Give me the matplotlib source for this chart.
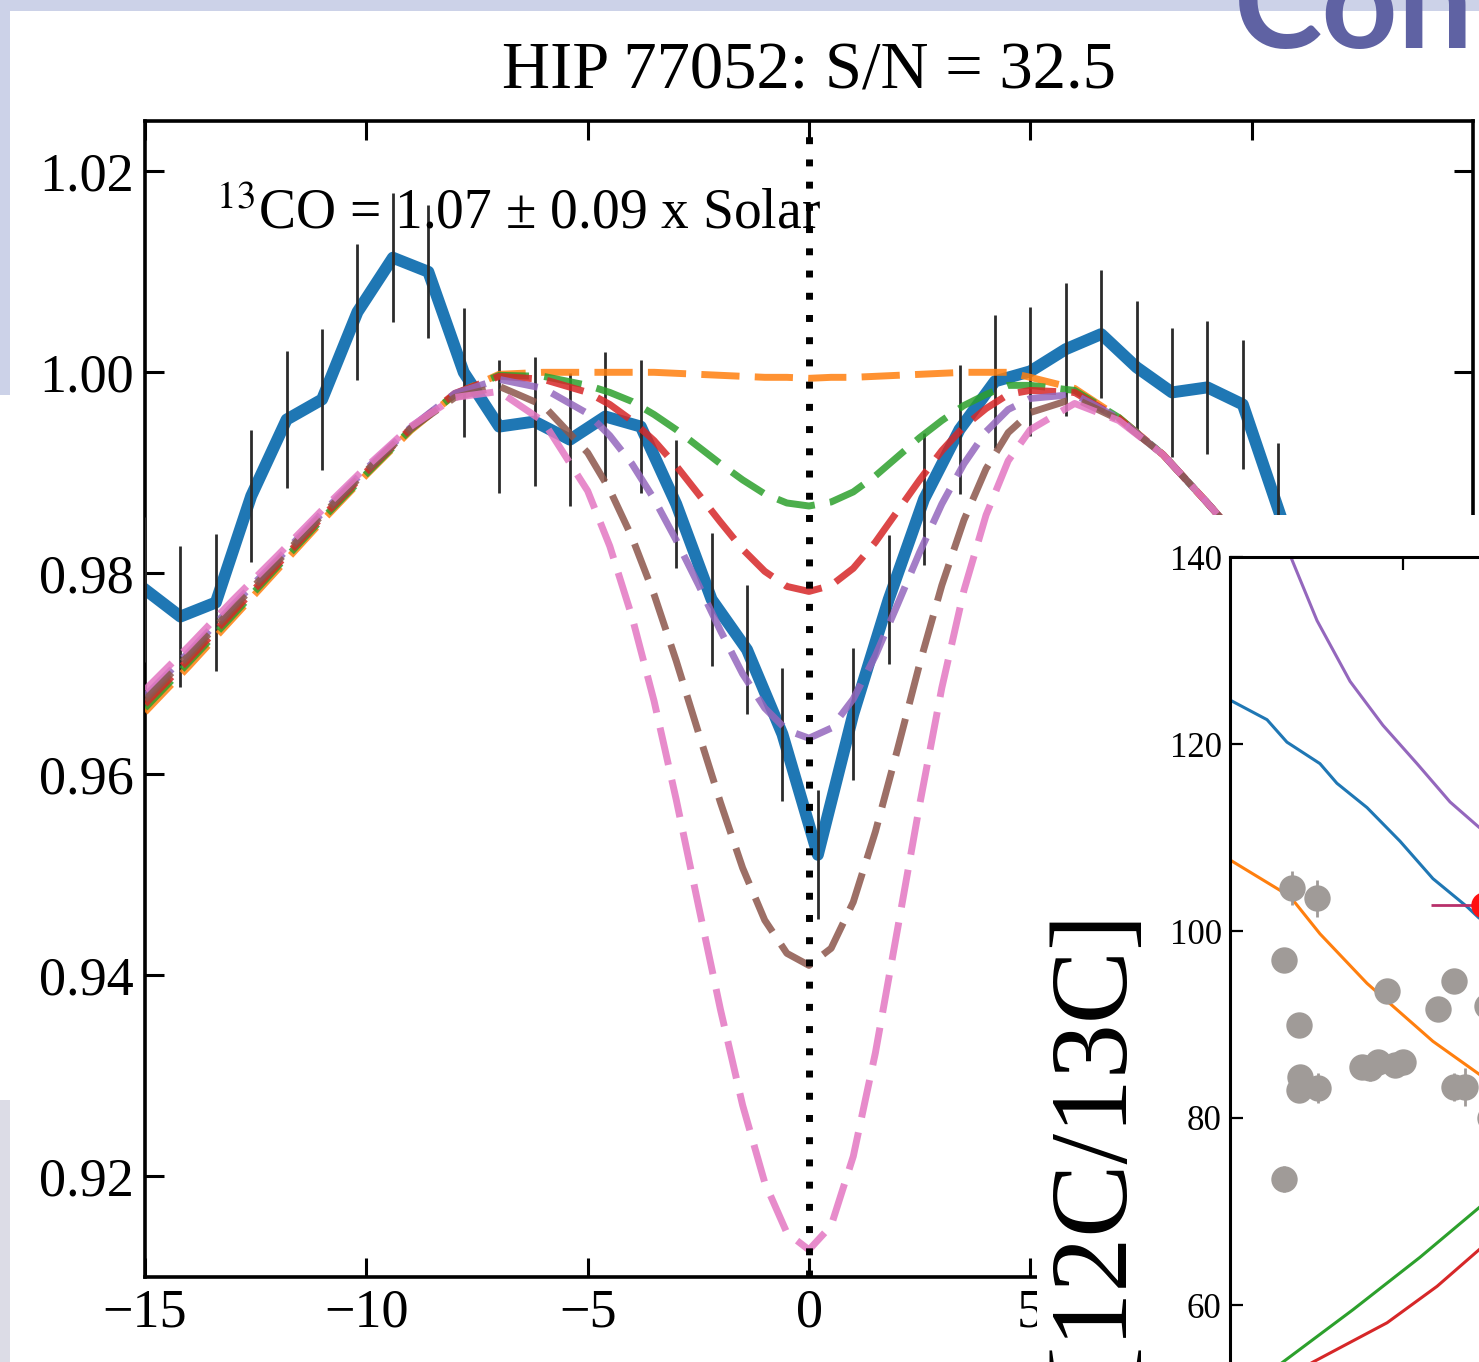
import matplotlib
matplotlib.use("Agg")
import matplotlib.pyplot as plt
from matplotlib.patches import Rectangle

plt.rcParams['font.family'] = ['Liberation Serif', 'DejaVu Serif']
plt.rcParams['mathtext.fontset'] = 'stix'

W, H = 1479, 1362

# observed spectrum: velocity (km/s), normalised flux, error
vel = [-15.0, -14.2, -13.4, -12.6, -11.8, -11.0, -10.2, -9.4, -8.6, -7.8, -7.0, -6.2,
       -5.4, -4.6, -3.8, -3.0, -2.2, -1.4, -0.6, 0.2, 1.0, 1.8, 2.6, 3.4, 4.2, 5.0,
       5.8, 6.6, 7.4, 8.2, 9.0, 9.8, 10.6, 11.4]
flux = [0.9784, 0.9757, 0.9771, 0.9877, 0.9953, 0.9973, 1.0060, 1.0114, 1.0100, 1.0000,
        0.9946, 0.9951, 0.9933, 0.9956, 0.9946, 0.9869, 0.9774, 0.9724, 0.9640, 0.9520,
        0.9660, 0.9774, 0.9874, 0.9943, 0.9991, 1.0001, 1.0023, 1.0038, 1.0005, 0.9980,
        0.9985, 0.9968, 0.9864, 0.9760]
ferr = [0.0072, 0.0070, 0.0068, 0.0066, 0.0068, 0.0070, 0.0068, 0.0064, 0.0066, 0.0064,
        0.0066, 0.0064, 0.0066, 0.0064, 0.0066, 0.0064, 0.0066, 0.0064, 0.0066, 0.0064,
        0.0066, 0.0064, 0.0066, 0.0064, 0.0066, 0.0064, 0.0066, 0.0064, 0.0066, 0.0064,
        0.0066, 0.0064, 0.0066, 0.0064]

# model spectra for different 13CO abundances
mvel = [-15, -14, -13, -12, -11, -10, -9, -8, -7, -6,
        -5, -4.5, -4, -3.5, -3, -2.5, -2, -1.5, -1, -0.5, 0,
        0.5, 1, 1.5, 2, 2.5, 3, 3.5, 4, 4.5, 5,
        6, 7, 8, 9, 10, 11, 12]
m_orange = [0.9662, 0.9708, 0.9756, 0.9804, 0.9852, 0.9898, 0.9942, 0.9978, 0.9998, 1.0000,
            1.0000, 1.0000, 1.0000, 1.0000, 0.9999, 0.9998, 0.9997, 0.9996, 0.9995, 0.9995, 0.9994,
            0.9995, 0.9995, 0.9996, 0.9997, 0.9998, 0.9999, 1.0000, 1.0000, 1.0000, 0.9995,
            0.9984, 0.9955, 0.9918, 0.9870, 0.9820, 0.9765, 0.9710]
m_green = [0.9666, 0.9712, 0.9759, 0.9807, 0.9854, 0.9899, 0.9943, 0.9978, 0.9997, 0.9996,
           0.9987, 0.9980, 0.9971, 0.9958, 0.9943, 0.9926, 0.9909, 0.9893, 0.9879, 0.9870, 0.9867,
           0.9871, 0.9881, 0.9897, 0.9916, 0.9935, 0.9952, 0.9967, 0.9978, 0.9987, 0.9987,
           0.9982, 0.9955, 0.9918, 0.9870, 0.9820, 0.9765, 0.9710]
m_red = [0.9670, 0.9715, 0.9762, 0.9809, 0.9856, 0.9901, 0.9944, 0.9979, 0.9996, 0.9993,
         0.9980, 0.9968, 0.9952, 0.9932, 0.9907, 0.9879, 0.9851, 0.9824, 0.9802, 0.9787, 0.9782,
         0.9788, 0.9805, 0.9831, 0.9862, 0.9893, 0.9922, 0.9946, 0.9964, 0.9978, 0.9982,
         0.9980, 0.9954, 0.9918, 0.9870, 0.9820, 0.9765, 0.9710]
m_purple = [0.9678, 0.9722, 0.9769, 0.9814, 0.9860, 0.9904, 0.9945, 0.9979, 0.9993, 0.9984,
            0.9959, 0.9937, 0.9909, 0.9874, 0.9833, 0.9789, 0.9743, 0.9700, 0.9666, 0.9644, 0.9636,
            0.9646, 0.9675, 0.9718, 0.9769, 0.9821, 0.9869, 0.9909, 0.9941, 0.9963, 0.9974,
            0.9978, 0.9954, 0.9918, 0.9870, 0.9820, 0.9765, 0.9710]
m_brown = [0.9674, 0.9719, 0.9766, 0.9812, 0.9858, 0.9902, 0.9944, 0.9975, 0.9986, 0.9967,
           0.9920, 0.9883, 0.9836, 0.9779, 0.9713, 0.9642, 0.9572, 0.9507, 0.9455, 0.9422, 0.9410,
           0.9427, 0.9473, 0.9543, 0.9625, 0.9710, 0.9788, 0.9853, 0.9904, 0.9940, 0.9960,
           0.9974, 0.9953, 0.9918, 0.9870, 0.9820, 0.9765, 0.9710]
m_pink = [0.9684, 0.9728, 0.9774, 0.9818, 0.9863, 0.9906, 0.9946, 0.9975, 0.9981, 0.9951,
          0.9882, 0.9827, 0.9757, 0.9673, 0.9575, 0.9470, 0.9366, 0.9271, 0.9194, 0.9144, 0.9127,
          0.9151, 0.9220, 0.9323, 0.9446, 0.9570, 0.9686, 0.9783, 0.9858, 0.9912, 0.9943,
          0.9969, 0.9952, 0.9918, 0.9870, 0.9820, 0.9765, 0.9710]

# inset: 12C/13C panel (only partly visible)
purple_x = [0.28, 0.347, 0.503, 0.694, 0.884, 1.081, 1.272, 1.439, 1.6]
purple_y = [143.0, 140.2, 133.2, 126.7, 122.0, 117.9, 113.8, 111.1, 109.0]
blue_x = [0.0, 0.214, 0.329, 0.520, 0.618, 0.792, 0.983, 1.173, 1.370, 1.439, 1.6]
blue_y = [124.7, 122.6, 120.2, 117.9, 115.8, 113.2, 109.6, 105.6, 102.6, 101.4, 100.0]
orange_x = [0.0, 0.347, 0.520, 0.792, 1.173, 1.439, 1.6]
orange_y = [107.6, 103.7, 99.7, 94.4, 88.2, 84.7, 82.5]
green_x = [0.1, 0.306, 0.711, 1.098, 1.439, 1.6]
green_y = [51.0, 53.9, 59.5, 65.1, 70.4, 73.0]
red_x = [0.3, 0.480, 0.908, 1.197, 1.439, 1.6]
red_y = [52.0, 53.9, 58.1, 62.0, 65.9, 68.5]
star_x = [0.358, 0.503, 0.312, 0.399, 0.405, 0.399, 0.509, 0.312, 0.908, 0.763,
          0.809, 0.855, 0.954, 1.000, 1.202, 1.295, 1.295, 1.358, 1.486, 1.503]
star_y = [104.6, 103.5, 96.9, 90.0, 84.4, 83.0, 83.2, 73.5, 93.6, 85.5,
          85.3, 86.0, 85.7, 86.0, 91.7, 94.7, 83.3, 83.3, 92.0, 80.0]
star_err = [1.85, 2.0, 1.3, 0.9, 1.2, 1.0, 1.6, 1.4, 1.1, 1.0,
            1.35, 1.1, 1.0, 0.9, 1.0, 1.15, 1.5, 2.0, 1.2, 1.5]
target_x = [1.47]
target_y = [102.8]
target_xerr = [0.31]


def px_box(x0, y0, x1, y1):
    return [x0 / W, 1 - y1 / H, (x1 - x0) / W, (y1 - y0) / H]


fig = plt.figure(figsize=(W / 100, H / 100), dpi=100)

# main spectrum panel
ax = fig.add_axes(px_box(145, 121, 1473, 1277))
ax.plot(vel, flux, color='#1f77b4', lw=8.6, zorder=2)
ax.errorbar(vel, flux, yerr=ferr, fmt='none', ecolor='#2b2b2b', elinewidth=2.0,
            capsize=0, zorder=3)
models = [(m_orange, '#ff7f0e'), (m_green, '#2ca02c'), (m_red, '#d62728'),
          (m_purple, '#9467bd'), (m_brown, '#8c564b'), (m_pink, '#e377c2')]
for ys, c in models:
    ax.plot(mvel, ys, color=c, lw=5, dashes=(5.5, 2.2), alpha=0.85, zorder=4)
ax.axvline(0, color='black', lw=5, linestyle=(0, (1, 2.2)), zorder=5)

ax.set_xlim(-15, 15)
ax.set_ylim(0.91, 1.025)
ax.set_xticks([-15, -10, -5, 0, 5, 10])
ax.set_yticks([0.92, 0.94, 0.96, 0.98, 1.00, 1.02])
ax.set_yticklabels(['0.92', '0.94', '0.96', '0.98', '1.00', '1.02'])
ax.tick_params(direction='in', length=14, width=2.2, top=True, right=True,
               labelsize=39, pad=8)
for sp in ax.spines.values():
    sp.set_linewidth(2.6)
ax.text(0.5, 1.0285, 'HIP 77052: S/N = 32.5', transform=ax.transAxes,
        ha='center', va='baseline', fontsize=48)
ax.text(-13.4, 1.0143, r'$^{13}$CO = 1.07 ± 0.09 x Solar', fontsize=40,
        va='baseline', zorder=6)

# white block that the inset sits on
fig.add_artist(Rectangle((1037 / W, 0), 1 - 1037 / W, 1 - 515 / H,
                         transform=fig.transFigure, facecolor='white',
                         edgecolor='none', zorder=1))

# inset panel
axi = fig.add_axes(px_box(1230, 557, 1576, 1492))
axi.set_zorder(2)
axi.plot(purple_x, purple_y, color='#9467bd', lw=2.2)
axi.plot(blue_x, blue_y, color='#1f77b4', lw=2.2)
axi.plot(orange_x, orange_y, color='#ff7f0e', lw=2.2)
axi.plot(green_x, green_y, color='#2ca02c', lw=2.2)
axi.plot(red_x, red_y, color='#d62728', lw=2.2)
axi.errorbar(star_x, star_y, yerr=star_err, fmt='o', ms=19, color='#a09b98',
             ecolor='#a09b98', elinewidth=2, mec='none', zorder=3)
axi.errorbar(target_x, target_y, xerr=target_xerr, fmt='o', ms=19, color='#ff1010',
             ecolor='#b8306a', elinewidth=2, mec='none', zorder=4)
axi.set_xlim(0, 2)
axi.set_ylim(40, 140)
axi.set_xticks([1])
axi.set_yticks([40, 60, 80, 100, 120, 140])
axi.tick_params(direction='in', length=9, width=1.6, top=True, right=True,
                labelsize=25, pad=6)
for sp in axi.spines.values():
    sp.set_linewidth(2.2)

fig.text(1092 / W, 1 - 904 / H, '[12C/13C]', rotation=90, ha='center', va='top',
         fontsize=79, zorder=3)

# slide background bits
fig.add_artist(Rectangle((0, 1 - 11 / H), 1, 11 / H, transform=fig.transFigure,
                         facecolor='#ccd2e8', edgecolor='none', zorder=5))
fig.add_artist(Rectangle((0, 1 - 395 / H), 10 / W, 395 / H, transform=fig.transFigure,
                         facecolor='#ccd2e8', edgecolor='none', zorder=5))
fig.add_artist(Rectangle((0, 0), 10 / W, 262 / H, transform=fig.transFigure,
                         facecolor='#dcdce6', edgecolor='none', zorder=5))
fig.text(1234 / W, 1 - 48 / H, 'Con', fontsize=96, color='#5f62a3', family='Lato',
         fontweight='bold', ha='left', va='baseline', zorder=6)

fig.savefig('out.png', dpi=100)
